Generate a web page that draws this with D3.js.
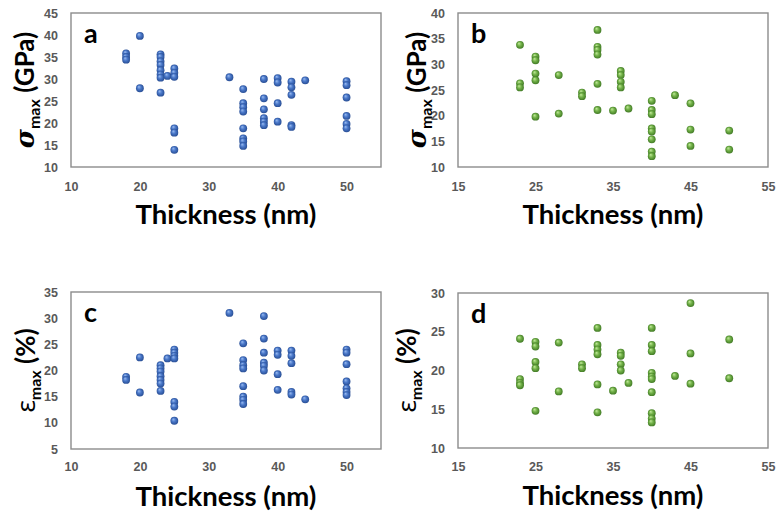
<!DOCTYPE html>
<html>
<head>
<meta charset="utf-8">
<script src="https://cdn.jsdelivr.net/npm/d3@7"></script>
<style>
  body { margin: 0; background: #fff; }
  svg { display: block; font-family: Lato, "Open Sans", sans-serif; }
  .tick text { fill: #595959; font-weight: bold; font-size: 12.5px; }
</style>
</head>
<body>
<svg width="777" height="515"></svg>
<script>
// panel a : strength vs thickness (blue)
let aThick = [18, 18, 18, 20, 20, 23, 23, 23, 23, 23, 23, 23, 23, 24, 25, 25, 25, 25, 25, 25,
  33, 35, 35, 35, 35, 35, 35, 35, 35, 38, 38, 38, 38, 38, 38, 40, 40, 40, 40,
  42, 42, 42, 42, 42, 44, 50, 50, 50, 50, 50, 50];
let aSigma = [35.8, 35.0, 34.4, 39.8, 27.9, 35.6, 35.0, 34.0, 33.2, 32.0, 31.0, 30.3, 26.9, 30.7,
  32.4, 31.4, 30.5, 18.8, 17.8, 13.9,
  30.4, 27.7, 24.5, 23.6, 22.6, 18.8, 16.5, 15.8, 14.8, 30.0, 25.6, 23.1, 21.1, 20.3, 19.5,
  30.2, 29.2, 24.5, 20.3, 29.4, 28.1, 26.4, 19.5, 19.1, 29.7, 29.5, 28.6, 25.8, 21.6, 19.8, 18.8];

// panel b : strength vs thickness (green)
let bThick = [23, 23, 23, 25, 25, 25, 25, 25, 28, 28, 31, 31, 33, 33, 33, 33, 33, 33, 35,
  36, 36, 36, 36, 37, 40, 40, 40, 40, 40, 40, 40, 40, 43, 45, 45, 45, 50, 50];
let bSigma = [33.8, 26.3, 25.5, 31.5, 30.8, 28.2, 26.9, 19.8, 27.9, 20.4, 24.5, 23.8,
  36.7, 33.4, 32.8, 31.9, 26.2, 21.1, 21.0, 28.7, 27.9, 26.6, 25.5, 21.4,
  22.9, 21.1, 20.3, 17.5, 16.9, 15.4, 13.0, 12.1, 24.0, 22.4, 17.3, 14.1, 17.1, 13.4];

// panel c : strain vs thickness (blue)
let cThick = [18, 18, 20, 20, 23, 23, 23, 23, 23, 23, 23, 24, 25, 25, 25, 25, 25, 25, 25,
  33, 35, 35, 35, 35, 35, 35, 35, 35, 38, 38, 38, 38, 38, 38, 40, 40, 40, 40,
  42, 42, 42, 42, 42, 44, 50, 50, 50, 50, 50, 50, 50];
let cEps = [18.8, 18.2, 22.5, 15.8, 21.0, 20.4, 19.8, 18.9, 18.2, 17.5, 16.1, 22.3,
  24.0, 23.4, 22.8, 22.3, 14.0, 13.1, 10.4,
  31.0, 25.2, 22.0, 21.0, 20.4, 17.0, 15.0, 14.4, 13.6, 30.4, 26.1, 23.4, 21.5, 20.9, 20.0,
  23.8, 23.0, 19.3, 16.3, 23.8, 22.8, 21.4, 15.9, 15.4, 14.5,
  24.0, 23.4, 21.2, 17.9, 16.6, 15.9, 15.3];

// panel d : strain vs thickness (green)
let dThick = [23, 23, 23, 23, 25, 25, 25, 25, 25, 28, 28, 31, 31, 33, 33, 33, 33, 33, 33, 35,
  36, 36, 36, 36, 37, 40, 40, 40, 40, 40, 40, 40, 40, 40, 40, 43, 45, 45, 45, 50, 50];
let dEps = [24.1, 18.9, 18.4, 18.1, 23.7, 23.1, 21.1, 20.3, 14.8, 23.6, 17.3, 20.8, 20.3,
  25.5, 23.3, 22.7, 22.1, 18.2, 14.6, 17.4, 22.3, 21.9, 20.8, 20.0, 18.4,
  25.5, 23.3, 22.5, 19.7, 19.2, 18.9, 17.2, 14.5, 13.8, 13.3, 19.3, 28.7, 22.2, 18.3, 24.0, 19.0];

// tick labels
let xTicksLeft = [10, 20, 30, 40, 50];
let xTicksRight = [15, 25, 35, 45, 55];
let yTicksA = [10, 15, 20, 25, 30, 35, 40, 45];
let yTicksB = [10, 15, 20, 25, 30, 35, 40];
let yTicksC = [5, 10, 15, 20, 25, 30, 35];
let yTicksD = [10, 15, 20, 25, 30];

let svg = d3.select('svg');

// sphere look for the markers
let defs = svg.append('defs');
[['blueBall', '#9bbcf0', '#4a78c9', '#24498f'], ['greenBall', '#c3ea9c', '#74b34a', '#3b7420']]
  .forEach(([id, c0, c1, c2]) => {
    let g = defs.append('radialGradient').attr('id', id)
      .attr('cx', '50%').attr('cy', '50%').attr('r', '55%')
      .attr('fx', '35%').attr('fy', '30%');
    g.append('stop').attr('offset', '0%').attr('stop-color', c0);
    g.append('stop').attr('offset', '45%').attr('stop-color', c1);
    g.append('stop').attr('offset', '100%').attr('stop-color', c2);
  });

let panels = [
  { label: 'a', xs: aThick, ys: aSigma, xd: [10, 55], yd: [10, 45], xt: xTicksLeft, yt: yTicksA,
    box: [71, 381, 13, 167], ball: 'blueBall', sym: 'σ', unit: '(GPa)', italic: true, titleX: 25, xPad: 15 },
  { label: 'b', xs: bThick, ys: bSigma, xd: [15, 55], yd: [10, 40], xt: xTicksRight, yt: yTicksB,
    box: [458, 768, 13, 167], ball: 'greenBall', sym: 'σ', unit: '(GPa)', italic: true, titleX: 417, xPad: 15 },
  { label: 'c', xs: cThick, ys: cEps, xd: [10, 55], yd: [5, 35], xt: xTicksLeft, yt: yTicksC,
    box: [71, 381, 292, 449], ball: 'blueBall', sym: 'ε', unit: '(%)', italic: false, titleX: 26, xPad: 13 },
  { label: 'd', xs: dThick, ys: dEps, xd: [15, 55], yd: [10, 30], xt: xTicksRight, yt: yTicksD,
    box: [458, 768, 293, 448], ball: 'greenBall', sym: 'ε', unit: '(%)', italic: false, titleX: 407, xPad: 14 }
];

panels.forEach(p => {
  let [x0, x1, y0, y1] = p.box;
  let x = d3.scaleLinear().domain(p.xd).range([x0, x1]);
  let y = d3.scaleLinear().domain(p.yd).range([y1, y0]);
  let g = svg.append('g').attr('class', 'panel-' + p.label);

  g.append('rect')
    .attr('x', x0).attr('y', y0)
    .attr('width', x1 - x0).attr('height', y1 - y0)
    .attr('fill', 'none')
    .attr('stroke', '#8c8c8c')
    .attr('stroke-width', 1.4)
    ;

  g.append('g')
    .attr('transform', `translate(0,${y1})`)
    .call(d3.axisBottom(x).tickValues(p.xt).tickSize(0).tickPadding(p.xPad).tickFormat(d3.format('d')))
    .call(a => a.select('.domain').remove())
    ;
  g.append('g')
    .attr('transform', `translate(${x0},0)`)
    .call(d3.axisLeft(y).tickValues(p.yt).tickSize(0).tickPadding(13).tickFormat(d3.format('d')))
    .call(a => a.select('.domain').remove())
    ;

  // x title
  g.append('text')
    .attr('x', (x0 + x1) / 2)
    .attr('y', y1 + 57)
    .attr('text-anchor', 'middle')
    .attr('font-weight', 'bold')
    .attr('font-size', 27.5)
    .text('Thickness (nm)')
    ;

  // y title, rotated
  let t = g.append('text')
    .attr('transform', `translate(${p.titleX + 9},${(y0 + y1) / 2}) rotate(-90)`)
    .attr('text-anchor', 'middle')
    .attr('font-weight', 'bold')
    .attr('font-size', 26)
    ;
  t.append('tspan')
    .attr('font-style', p.italic ? 'italic' : 'normal')
    .attr('font-family', p.italic ? '"DejaVu Serif", serif' : '"Open Sans", sans-serif')
    .attr('font-weight', p.italic ? 'bold' : 'normal')
    .text(p.sym);
  t.append('tspan').attr('font-size', 16).attr('dy', 6).text('max');
  t.append('tspan').attr('dy', -6).text(' ' + p.unit);

  // panel letter
  g.append('text')
    .attr('x', x0 + 13)
    .attr('y', y0 + 30)
    .attr('font-weight', 'bold')
    .attr('font-size', 27)
    .text(p.label)
    ;

  g.append('g')
    .selectAll('circle')
    .data(p.xs.map((d, i) => [d, p.ys[i]]))
    .enter()
      .append('circle')
      .attr('cx', d => x(d[0]))
      .attr('cy', d => y(d[1]))
      .attr('r', 3.9)
      .attr('fill', `url(#${p.ball})`)
    ;
});
</script>
</body>
</html>
